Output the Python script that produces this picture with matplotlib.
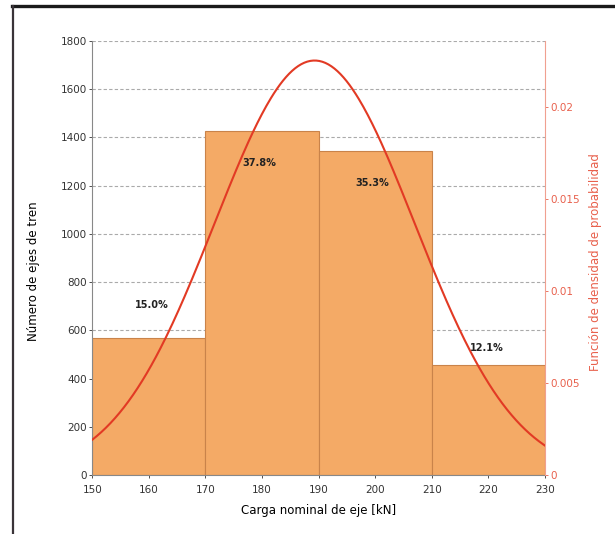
import numpy as np
import matplotlib
matplotlib.use("Agg")
import matplotlib.pyplot as plt
from matplotlib.lines import Line2D

# --- data ---
bin_edges = [150, 170, 190, 210, 230]
counts = [568, 1427, 1344, 456]
pct_labels = ["15.0%", "37.8%", "35.3%", "12.1%"]
pct_x = [160.5, 179.5, 199.5, 219.8]
pct_y = [705, 1294, 1211, 527]

# fitted normal curve (mean, std) for the density axis
mu, sigma = 189.3, 17.7

BAR_COLOR = "#F4AA66"
EDGE_COLOR = "#C9834A"
RED = "#E23A24"
RED_AX = "#F0A090"
TXT_RED = "#E8604C"

fig = plt.figure(figsize=(6.15, 5.34), dpi=100)
ax = fig.add_axes([0.150, 0.1105, 0.736, 0.8127])

widths = np.diff(bin_edges)
ax.bar(bin_edges[:-1], counts, width=widths, align="edge",
       color=BAR_COLOR, edgecolor=EDGE_COLOR, linewidth=0.8, zorder=2)

for x, y, s in zip(pct_x, pct_y, pct_labels):
    ax.text(x, y, s, ha="center", va="center", fontsize=7,
            fontweight="bold", color="#222222", zorder=5)

ax.set_xlim(150, 230)
ax.set_ylim(0, 1800)
ax.set_xticks(np.arange(150, 231, 10))
ax.set_yticks(np.arange(0, 1801, 200))
ax.tick_params(labelsize=7.5, length=2, width=0.6, colors="#333333", pad=2)
ax.tick_params(axis="x", pad=5)
ax.yaxis.grid(True, linestyle=(0, (3, 2)), color="#AAAAAA", linewidth=0.8, zorder=0)
ax.set_axisbelow(True)
ax.spines["top"].set_visible(False)
ax.spines["right"].set_visible(False)
ax.spines["left"].set_color("#888888")
ax.spines["bottom"].set_color("#888888")
ax.set_xlabel("Carga nominal de eje [kN]", fontsize=8.5, labelpad=7)
ax.set_ylabel("Número de ejes de tren", fontsize=8.5)
ax.yaxis.set_label_coords(-0.116, 0.47)

ax2 = ax.twinx()
xs = np.linspace(150, 230, 300)
pdf = np.exp(-0.5 * ((xs - mu) / sigma) ** 2) / (sigma * np.sqrt(2 * np.pi))
ax2.plot(xs, pdf, color=RED, linewidth=1.5, zorder=4)
ax2.set_ylim(0, 0.0236)
ax2.set_yticks([0, 0.005, 0.01, 0.015, 0.02])
ax2.set_yticklabels(["0", "0.005", "0.01", "0.015", "0.02"])
ax2.tick_params(labelsize=7.5, length=2, width=0.6, colors=TXT_RED, pad=2)
for side in ["top", "left", "bottom"]:
    ax2.spines[side].set_visible(False)
ax2.spines["right"].set_color(RED_AX)
ax2.set_ylabel("Función de densidad de probabilidad", fontsize=8.5,
               color=TXT_RED)
ax2.yaxis.set_label_coords(1.097, 0.49)

# frame lines of the original picture
fig.add_artist(Line2D([0.019, 1.0], [0.988, 0.988], color="#1a1a1a",
                      linewidth=2.4, transform=fig.transFigure))
fig.add_artist(Line2D([0.021, 0.021], [0.0, 0.988], color="#3a3438",
                      linewidth=1.6, transform=fig.transFigure))

fig.savefig("out.png", dpi=100)
